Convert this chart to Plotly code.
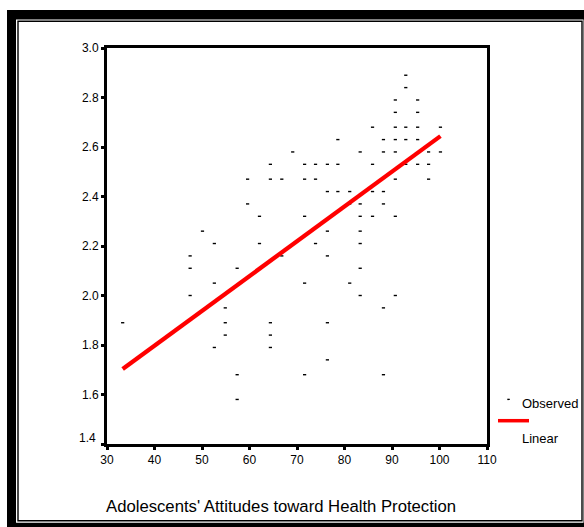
import plotly.graph_objects as go

# ---- data ----
obs_x = [64.4, 59.6, 64.4, 66.8, 59.6, 62.1, 50.1, 52.6, 62.1, 47.5, 66.8, 47.5, 57.4,
         52.6, 47.5, 54.9, 33.3, 54.9, 64.4, 54.9, 64.4, 52.6, 64.4, 57.4, 57.4,
         92.9, 92.9, 90.7, 95.4, 90.7, 95.4, 85.9, 90.7, 92.9, 95.4, 100.2,
         78.6, 88.2, 90.7, 92.9, 95.4,
         69.1, 83.3, 88.2, 90.7, 97.7, 100.2,
         71.6, 73.9, 76.4, 78.6, 85.9, 92.9, 95.4, 97.7,
         71.6, 73.9, 90.7, 97.7,
         76.4, 78.6, 81.1, 85.9, 88.2,
         81.1, 83.3, 88.2,
         71.6, 83.3, 85.9, 90.7, 76.4, 83.3, 73.9, 83.3, 76.4, 83.3,
         71.6, 81.1, 83.3, 90.7, 88.2, 76.4, 76.4, 71.6, 88.2]
obs_y = [2.53, 2.47, 2.47, 2.47, 2.37, 2.32, 2.26, 2.21, 2.21, 2.16, 2.16, 2.11, 2.11,
         2.05, 2.00, 1.95, 1.89, 1.89, 1.89, 1.84, 1.84, 1.79, 1.79, 1.68, 1.58,
         2.89, 2.84, 2.79, 2.79, 2.74, 2.74, 2.68, 2.68, 2.68, 2.68, 2.68,
         2.63, 2.63, 2.63, 2.63, 2.63,
         2.58, 2.58, 2.58, 2.58, 2.58, 2.58,
         2.53, 2.53, 2.53, 2.53, 2.53, 2.53, 2.53, 2.53,
         2.47, 2.47, 2.47, 2.47,
         2.42, 2.42, 2.42, 2.42, 2.42,
         2.37, 2.37, 2.37,
         2.32, 2.32, 2.32, 2.32, 2.26, 2.26, 2.21, 2.21, 2.16, 2.11,
         2.05, 2.05, 2.00, 2.00, 1.95, 1.89, 1.74, 1.68, 1.68]

linear_x = [33.3, 100.2]
linear_y = [1.703, 2.644]

x_ticks = [30, 40, 50, 60, 70, 80, 90, 100, 110]
y_ticks = [1.4, 1.6, 1.8, 2.0, 2.2, 2.4, 2.6, 2.8, 3.0]
y_tick_text = ["", "1.6", "1.8", "2.0", "2.2", "2.4", "2.6", "2.8", "3.0"]

x_title = "Adolescents' Attitudes toward Health Protection"
legend_labels = ["Observed", "Linear"]

# ---- layout geometry (pixels) ----
W, H = 584, 527
L, R, T, B = 107, 97, 48, 83
PW, PH = W - L - R, H - T - B


def px(xp):
    return (xp - L) / PW


def py(yp):
    return (H - B - yp) / PH


FONT = "Liberation Sans, Arial, sans-serif"

fig = go.Figure()
fig.add_trace(go.Scatter(
    x=obs_x, y=obs_y, mode="markers", name=legend_labels[0],
    marker=dict(symbol="line-ew", size=2.3, color="black",
                line=dict(color="black", width=1.4)),
    showlegend=False))
fig.add_trace(go.Scatter(
    x=linear_x, y=linear_y, mode="lines", name=legend_labels[1],
    line=dict(color="#ff0000", width=4.3), showlegend=False))

shapes = [
    # outer frame
    dict(type="rect", xref="paper", yref="paper", layer="below",
         x0=px(7), x1=px(700), y0=py(10), y1=py(700),
         fillcolor="black", line=dict(width=0)),
    dict(type="rect", xref="paper", yref="paper", layer="below",
         x0=px(16), x1=px(583.5), y0=py(19.5), y1=py(522.7),
         fillcolor="white", line=dict(width=0)),
    dict(type="rect", xref="paper", yref="paper", layer="below",
         x0=px(18), x1=px(582), y0=py(21.3), y1=py(520.7),
         fillcolor="white", line=dict(color="black", width=1.4)),
    # legend symbols
    dict(type="line", xref="paper", yref="paper",
         x0=px(507.3), x1=px(509.8), y0=py(399.4), y1=py(399.4),
         line=dict(color="black", width=1.4)),
    dict(type="line", xref="paper", yref="paper",
         x0=px(498), x1=px(529), y0=py(420.7), y1=py(420.7),
         line=dict(color="#ff0000", width=3.5)),
]

annotations = [
    dict(xref="paper", yref="paper", x=px(520), y=py(403), text=legend_labels[0],
         showarrow=False, xanchor="left", yanchor="middle",
         font=dict(family=FONT, size=13, color="black")),
    dict(xref="paper", yref="paper", x=px(520), y=py(438), text=legend_labels[1],
         showarrow=False, xanchor="left", yanchor="middle",
         font=dict(family=FONT, size=13, color="black")),
    dict(xref="paper", yref="paper", x=px(281), y=py(506), text=x_title,
         showarrow=False, xanchor="center", yanchor="middle",
         font=dict(family=FONT, size=16.7, color="black")),
    dict(xref="paper", yref="paper", x=px(98), y=py(438), text="1.4",
         showarrow=False, xanchor="right", yanchor="middle",
         font=dict(family=FONT, size=12, color="black")),
]

axis_common = dict(showline=True, linecolor="black", linewidth=3, mirror=True,
                   ticks="outside", ticklen=3, tickwidth=3, tickcolor="black",
                   showgrid=False, zeroline=False,
                   tickfont=dict(family=FONT, size=12, color="black"))

fig.update_layout(
    width=W, height=H,
    margin=dict(l=L, r=R, t=T, b=B, pad=0),
    paper_bgcolor="white", plot_bgcolor="white",
    xaxis=dict(range=[30, 110], tickvals=x_ticks, **axis_common),
    yaxis=dict(range=[1.4, 3.0], tickvals=y_ticks, ticktext=y_tick_text,
               **axis_common),
    shapes=shapes, annotations=annotations,
    font=dict(family=FONT, size=12, color="black"),
    hovermode=False,
)

fig.write_html("out.html",
               config={"displayModeBar": False, "staticPlot": True},
               post_script="document.body.style.margin='0px';"
                           "document.body.style.overflow='hidden';")
